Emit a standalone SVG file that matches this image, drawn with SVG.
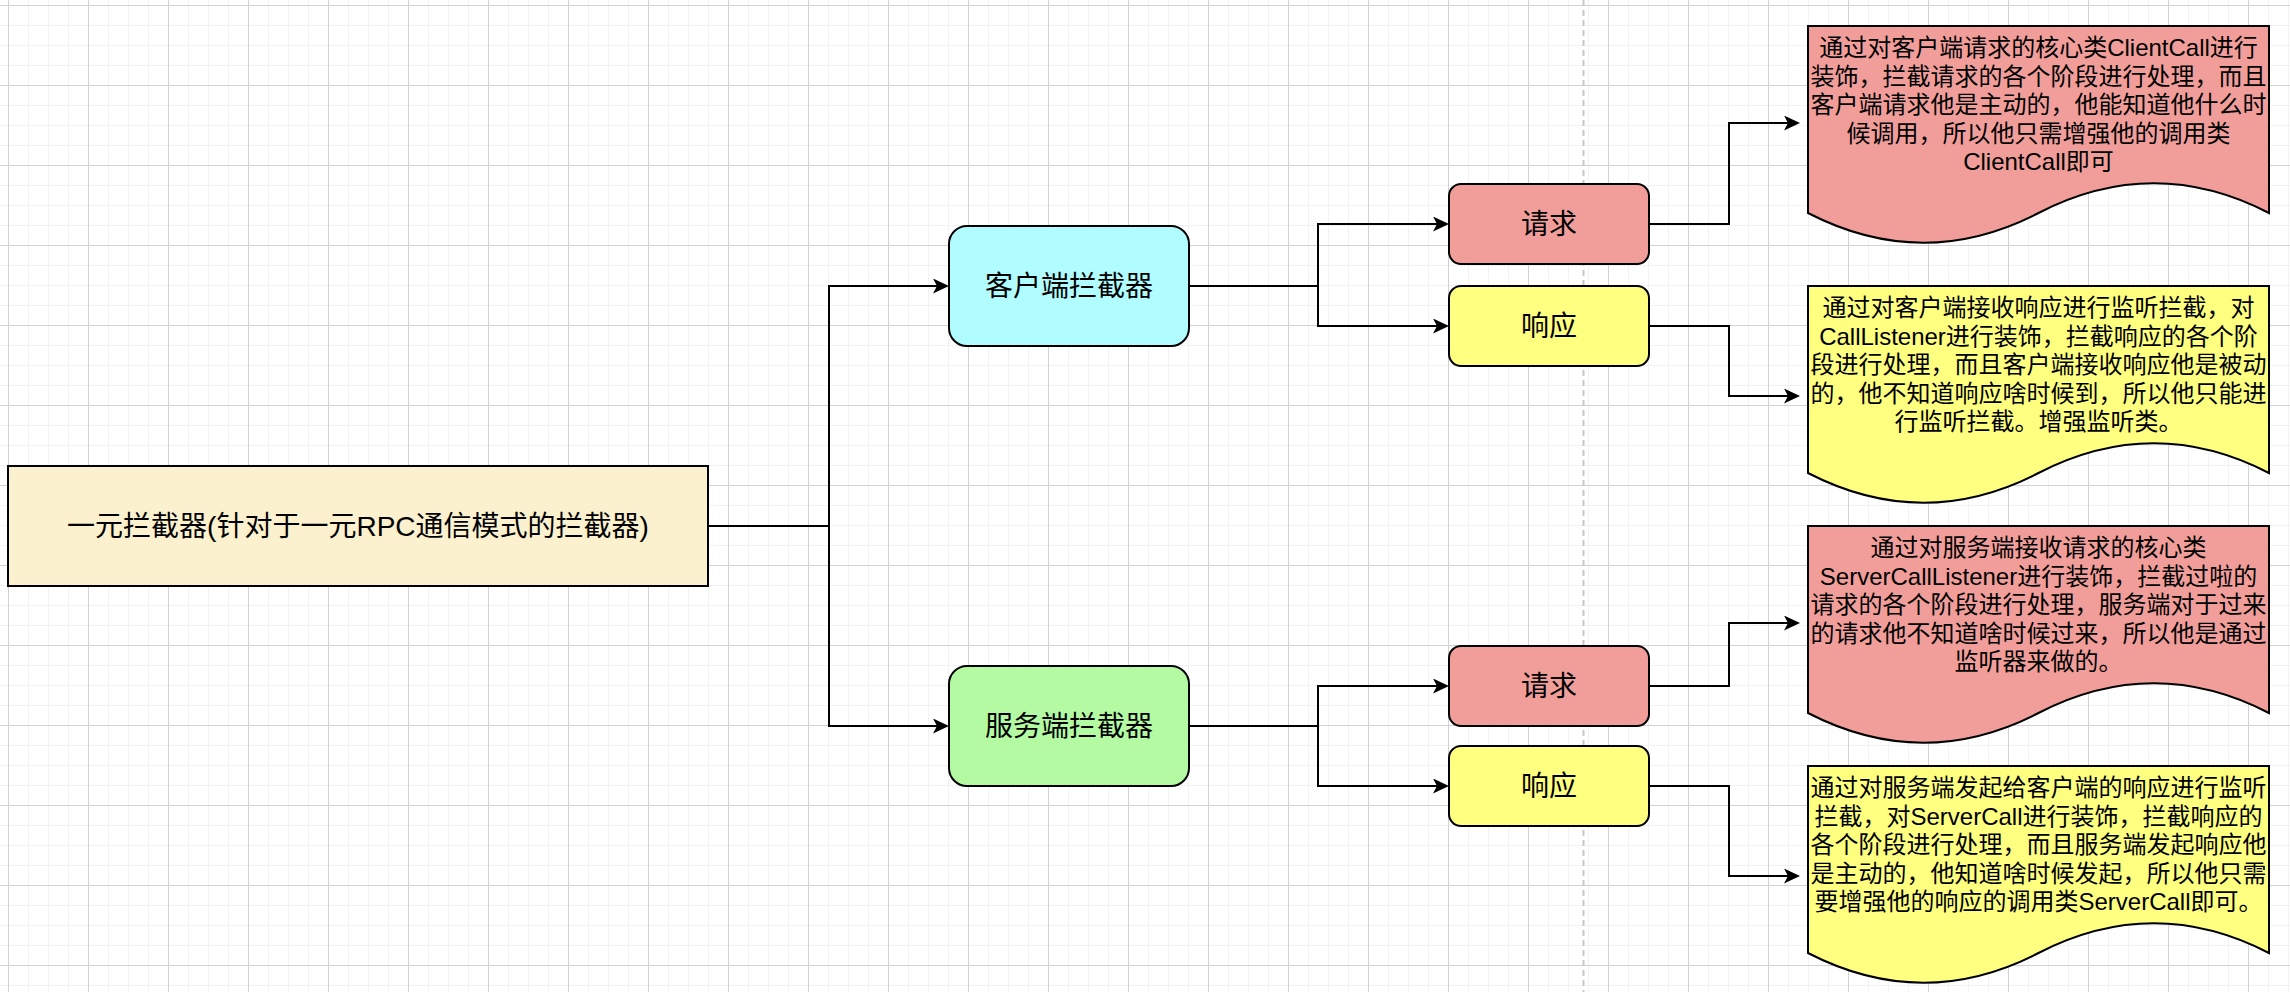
<svg xmlns="http://www.w3.org/2000/svg" width="2290" height="992" viewBox="0 0 2290 992">
<style>
  .box { stroke: #000; stroke-width: 2; }
  .lbl { font-family: "Liberation Sans", "Noto Sans CJK SC", sans-serif; font-size: 28px; fill: #000; text-anchor: middle; }
  .doc { font-family: "Liberation Sans", "Noto Sans CJK SC", sans-serif; font-size: 24px; fill: #000; text-anchor: middle; }
  .edge { fill: none; stroke: #000; stroke-width: 2; marker-end: url(#arrow); }
</style>
<defs>
  <pattern id="minor" x="8" y="5" width="20" height="20" patternUnits="userSpaceOnUse">
    <path d="M0 0.5 H20 M0.5 0 V20" stroke="#f2f2f2" stroke-width="1" fill="none"/>
  </pattern>
  <pattern id="major" x="8" y="5" width="80" height="80" patternUnits="userSpaceOnUse">
    <path d="M0 0.5 H80 M0.5 0 V80" stroke="#d2d2d2" stroke-width="1" fill="none"/>
  </pattern>
  <marker id="arrow" markerUnits="userSpaceOnUse" markerWidth="16" markerHeight="15" refX="6" refY="7.5" orient="auto">
    <path d="M0,0 L16,7.5 L0,15 L4,7.5 Z" fill="#000"/>
  </marker>
</defs>
<rect width="2290" height="992" fill="#fff"/>
<rect width="2290" height="992" fill="url(#minor)"/>
<rect width="2290" height="992" fill="url(#major)"/>
<line x1="1583.5" y1="0" x2="1583.5" y2="992" stroke="#c8c8c8" stroke-width="2" stroke-dasharray="6 4"/>

<g id="connectors">
  <path class="edge" d="M708,526 H829 V286 H939"/>
  <path class="edge" d="M708,526 H829 V726 H939"/>
  <path class="edge" d="M1189,286 H1318 V224 H1439"/>
  <path class="edge" d="M1189,286 H1318 V326 H1439"/>
  <path class="edge" d="M1189,726 H1318 V686 H1439"/>
  <path class="edge" d="M1189,726 H1318 V786 H1439"/>
  <path class="edge" d="M1649,224 H1729 V123 H1790"/>
  <path class="edge" d="M1649,326 H1729 V396 H1790"/>
  <path class="edge" d="M1649,686 H1729 V623 H1790"/>
  <path class="edge" d="M1649,786 H1729 V876 H1790"/>
</g>

<g id="root">
  <rect class="box" x="8" y="466" width="700" height="120" fill="#fcf1cf"/>
  <text class="lbl" x="358" y="536">一元拦截器(针对于一元RPC通信模式的拦截器)</text>
</g>
<g id="client">
  <rect class="box" x="949" y="226" width="240" height="120" rx="18" fill="#b1fcff"/>
  <text class="lbl" x="1069" y="296">客户端拦截器</text>
</g>
<g id="server">
  <rect class="box" x="949" y="666" width="240" height="120" rx="18" fill="#b3faa3"/>
  <text class="lbl" x="1069" y="736">服务端拦截器</text>
</g>
<g id="client-request">
  <rect class="box" x="1449" y="184" width="200" height="80" rx="12" fill="#f19e9b"/>
  <text class="lbl" x="1549" y="234">请求</text>
</g>
<g id="client-response">
  <rect class="box" x="1449" y="286" width="200" height="80" rx="12" fill="#ffff80"/>
  <text class="lbl" x="1549" y="336">响应</text>
</g>
<g id="server-request">
  <rect class="box" x="1449" y="646" width="200" height="80" rx="12" fill="#f19e9b"/>
  <text class="lbl" x="1549" y="696">请求</text>
</g>
<g id="server-response">
  <rect class="box" x="1449" y="746" width="200" height="80" rx="12" fill="#ffff80"/>
  <text class="lbl" x="1549" y="796">响应</text>
</g>

<g id="doc-client-request">
  <path class="box" fill="#f19e9b" d="M1808,26 H2269 V213 Q2153.75,153.6 2038.5,213 Q1923.25,272.4 1808,213 Z"/>
  <text class="doc" x="2038.5" y="56">通过对客户端请求的核心类ClientCall进行</text>
  <text class="doc" x="2038.5" y="84.5">装饰，拦截请求的各个阶段进行处理，而且</text>
  <text class="doc" x="2038.5" y="113">客户端请求他是主动的，他能知道他什么时</text>
  <text class="doc" x="2038.5" y="141.5">候调用，所以他只需增强他的调用类</text>
  <text class="doc" x="2038.5" y="170">ClientCall即可</text>
</g>
<g id="doc-client-response">
  <path class="box" fill="#ffff80" d="M1808,286 H2269 V473 Q2153.75,413.6 2038.5,473 Q1923.25,532.4 1808,473 Z"/>
  <text class="doc" x="2038.5" y="316">通过对客户端接收响应进行监听拦截，对</text>
  <text class="doc" x="2038.5" y="344.5">CallListener进行装饰，拦截响应的各个阶</text>
  <text class="doc" x="2038.5" y="373">段进行处理，而且客户端接收响应他是被动</text>
  <text class="doc" x="2038.5" y="401.5">的，他不知道响应啥时候到，所以他只能进</text>
  <text class="doc" x="2038.5" y="430">行监听拦截。增强监听类。</text>
</g>
<g id="doc-server-request">
  <path class="box" fill="#f19e9b" d="M1808,526 H2269 V713 Q2153.75,653.6 2038.5,713 Q1923.25,772.4 1808,713 Z"/>
  <text class="doc" x="2038.5" y="556">通过对服务端接收请求的核心类</text>
  <text class="doc" x="2038.5" y="584.5">ServerCallListener进行装饰，拦截过啦的</text>
  <text class="doc" x="2038.5" y="613">请求的各个阶段进行处理，服务端对于过来</text>
  <text class="doc" x="2038.5" y="641.5">的请求他不知道啥时候过来，所以他是通过</text>
  <text class="doc" x="2038.5" y="670">监听器来做的。</text>
</g>
<g id="doc-server-response">
  <path class="box" fill="#ffff80" d="M1808,766 H2269 V953 Q2153.75,893.6 2038.5,953 Q1923.25,1012.4 1808,953 Z"/>
  <text class="doc" x="2038.5" y="796">通过对服务端发起给客户端的响应进行监听</text>
  <text class="doc" x="2038.5" y="824.5">拦截，对ServerCall进行装饰，拦截响应的</text>
  <text class="doc" x="2038.5" y="853">各个阶段进行处理，而且服务端发起响应他</text>
  <text class="doc" x="2038.5" y="881.5">是主动的，他知道啥时候发起，所以他只需</text>
  <text class="doc" x="2038.5" y="910">要增强他的响应的调用类ServerCall即可。</text>
</g>
</svg>
